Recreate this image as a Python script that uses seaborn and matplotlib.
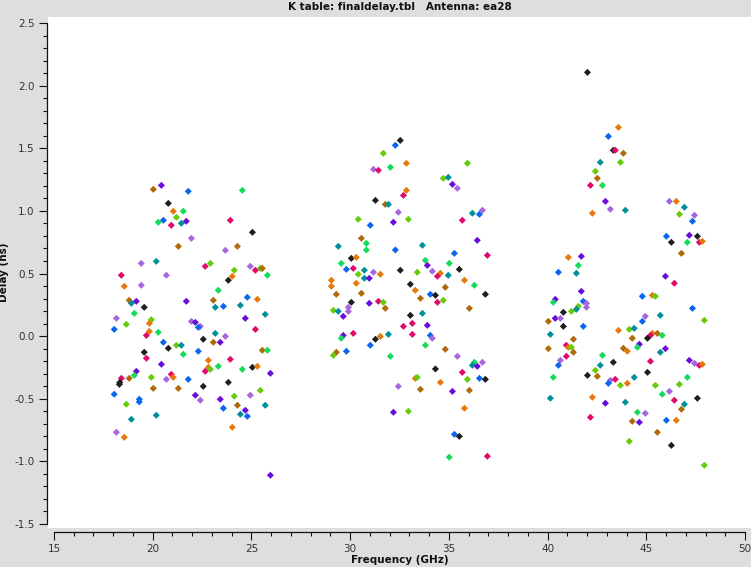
import pandas as pd
import matplotlib
matplotlib.use("Agg")
import matplotlib.pyplot as plt
from matplotlib.ticker import MultipleLocator
import seaborn as sns

TITLE = "K table: finaldelay.tbl   Antenna: ea28"
OUT_PNG = "out.png"

# colour groups (one per spw in the plotms cycle)
PALETTE = {
    'blk': '#1e1e1e', 'pur': '#6a0ddb', 'blu': '#0a66ee', 'tea': '#00909c',
    'grn': '#14dc5a', 'lim': '#66cc0a', 'org': '#e8780a', 'brn': '#b06a0a',
    'pnk': '#e00a6a', 'lav': '#a666dd',
}

# K band (18-26 GHz)
k_freq = [20.03, 20.44, 21.80, 24.54, 20.79, 21.04, 21.55, 21.20, 20.54, 20.28,
          21.70, 20.94, 21.45, 23.93, 25.05, 21.96, 21.30, 23.68, 24.29, 19.42,
          20.18, 18.41, 20.69, 22.66, 22.92, 24.13, 24.94, 25.20, 25.45, 25.55,
          25.81, 24.03, 23.83, 18.56, 19.42, 23.32, 18.81, 19.17, 18.92, 19.57,
          19.07, 21.70, 23.07, 23.58, 23.17, 24.44, 24.79, 25.30, 24.69, 25.70,
          18.16, 19.93, 18.66, 19.83, 18.05, 19.68, 19.83, 20.28, 21.96, 22.16,
          22.41, 22.31, 25.20, 23.17, 23.68, 22.56, 23.07, 23.42, 20.54, 21.20,
          21.45, 20.79, 19.57, 22.31, 25.55, 25.81, 21.55, 19.68, 23.93, 22.82,
          20.44, 22.82, 22.92, 22.66, 23.32, 24.54, 25.05, 25.30, 25.96, 19.17,
          19.07, 18.41, 18.81, 19.93, 20.94, 21.04, 20.69, 21.80, 23.83, 18.31,
          18.33, 18.05, 20.03, 21.30, 22.56, 25.45, 19.32, 19.32, 18.66, 22.16,
          22.41, 23.42, 24.13, 24.94, 24.29, 23.58, 24.69, 25.70, 24.44, 24.79,
          18.92, 20.18, 24.03, 18.16, 18.56, 25.96]
k_delay = [1.172, 1.204, 1.156, 1.164, 1.060, 0.997, 0.997, 0.949, 0.925, 0.909,
           0.917, 0.885, 0.901, 0.925, 0.829, 0.781, 0.717, 0.685, 0.717, 0.581,
           0.597, 0.486, 0.486, 0.557, 0.581, 0.526, 0.557, 0.526, 0.541, 0.541,
           0.486, 0.478, 0.446, 0.398, 0.406, 0.366, 0.286, 0.278, 0.262, 0.230,
           0.182, 0.278, 0.286, 0.238, 0.230, 0.246, 0.310, 0.294, 0.142, 0.174,
           0.142, 0.131, 0.094, 0.102, 0.054, 0.006, 0.038, 0.030, 0.118, 0.110,
           0.078, 0.070, 0.054, 0.022, -0.002, -0.025, -0.049, -0.049, -0.049, -0.073,
           -0.073, -0.097, -0.129, -0.121, -0.113, -0.113, -0.145, -0.177, -0.185, -0.193,
           -0.225, -0.249, -0.265, -0.281, -0.241, -0.265, -0.249, -0.241, -0.297, -0.281,
           -0.313, -0.337, -0.337, -0.329, -0.305, -0.329, -0.345, -0.345, -0.369, -0.385,
           -0.370, -0.464, -0.417, -0.417, -0.401, -0.433, -0.504, -0.525, -0.544, -0.472,
           -0.512, -0.504, -0.480, -0.472, -0.552, -0.576, -0.592, -0.552, -0.624, -0.640,
           -0.664, -0.632, -0.728, -0.768, -0.808, -1.111]
k_spw = ['brn', 'pur', 'blu', 'grn', 'blk', 'org', 'grn', 'lim', 'blu', 'grn',
         'pur', 'pnk', 'tea', 'pnk', 'blk', 'lav', 'brn', 'lav', 'brn', 'lav',
         'tea', 'pnk', 'lav', 'pnk', 'lim', 'lim', 'lav', 'pnk', 'lim', 'brn',
         'grn', 'org', 'blk', 'org', 'lav', 'grn', 'brn', 'pur', 'tea', 'blk',
         'grn', 'pur', 'brn', 'blu', 'tea', 'tea', 'blu', 'org', 'pur', 'tea',
         'lav', 'lim', 'lim', 'org', 'blu', 'pnk', 'org', 'grn', 'lav', 'pur',
         'lav', 'blu', 'pnk', 'tea', 'lav', 'blk', 'brn', 'pur', 'blu', 'lim',
         'tea', 'blk', 'blk', 'blu', 'brn', 'grn', 'grn', 'pnk', 'pnk', 'org',
         'pur', 'org', 'lim', 'pnk', 'grn', 'grn', 'blk', 'org', 'pur', 'pur',
         'grn', 'pnk', 'brn', 'lim', 'pnk', 'org', 'lav', 'blu', 'blk', 'blk',
         'blk', 'blu', 'brn', 'brn', 'blk', 'lim', 'blu', 'blu', 'lim', 'pur',
         'lav', 'pur', 'lim', 'lav', 'brn', 'blu', 'pur', 'tea', 'tea', 'blu',
         'tea', 'tea', 'org', 'lav', 'org', 'pur']

# Ka band (29-37 GHz)
ka_freq = [32.54, 32.29, 31.68, 32.85, 35.94, 31.18, 31.43, 32.04, 34.72, 34.97,
           35.18, 35.43, 32.85, 32.70, 31.28, 31.78, 31.94, 32.44, 30.41, 32.19,
           32.95, 31.02, 35.68, 36.19, 36.55, 36.70, 36.44, 30.57, 30.82, 29.40,
           33.66, 30.82, 32.29, 30.06, 30.31, 35.28, 36.95, 29.55, 30.16, 29.81,
           30.72, 30.41, 31.18, 31.53, 30.72, 30.97, 32.54, 33.81, 33.91, 35.02,
           35.53, 33.40, 34.16, 34.57, 34.42, 34.97, 29.05, 29.05, 30.31, 29.30,
           30.57, 33.05, 33.30, 34.82, 35.79, 36.29, 34.06, 34.32, 36.85, 33.56,
           30.06, 30.97, 31.43, 31.68, 34.42, 34.72, 31.78, 36.04, 29.15, 29.40,
           29.91, 29.91, 29.65, 33.05, 33.66, 32.70, 33.15, 33.91, 30.16, 29.65,
           29.55, 31.94, 31.53, 31.28, 33.15, 34.06, 34.16, 31.02, 33.81, 29.30,
           29.15, 29.81, 32.04, 34.82, 35.43, 36.29, 36.19, 36.44, 36.70, 34.32,
           35.68, 36.55, 36.85, 33.30, 33.40, 32.44, 34.57, 35.94, 33.56, 35.18,
           36.04, 35.79, 32.19, 32.95, 35.28, 35.53, 35.02, 36.95]
ka_delay = [1.563, 1.524, 1.460, 1.380, 1.380, 1.332, 1.324, 1.348, 1.260, 1.268,
            1.212, 1.180, 1.164, 1.124, 1.084, 1.052, 1.052, 0.989, 0.933, 0.909,
            0.933, 0.885, 0.925, 0.981, 0.973, 1.005, 0.765, 0.781, 0.741, 0.717,
            0.725, 0.688, 0.688, 0.621, 0.629, 0.661, 0.645, 0.581, 0.541, 0.533,
            0.526, 0.494, 0.510, 0.494, 0.462, 0.462, 0.526, 0.605, 0.565, 0.581,
            0.533, 0.510, 0.518, 0.502, 0.478, 0.486, 0.446, 0.398, 0.422, 0.334,
            0.342, 0.414, 0.366, 0.390, 0.446, 0.406, 0.334, 0.326, 0.334, 0.302,
            0.270, 0.262, 0.278, 0.270, 0.270, 0.286, 0.222, 0.222, 0.206, 0.198,
            0.230, 0.198, 0.158, 0.166, 0.182, 0.078, 0.102, 0.086, 0.022, 0.006,
            -0.017, 0.014, -0.002, -0.025, 0.014, 0.006, -0.017, -0.073, -0.073, -0.129,
            -0.153, -0.121, -0.161, -0.105, -0.161, -0.209, -0.233, -0.241, -0.209, -0.262,
            -0.289, -0.337, -0.345, -0.337, -0.329, -0.401, -0.369, -0.345, -0.425, -0.441,
            -0.433, -0.576, -0.608, -0.600, -0.784, -0.800, -0.967, -0.959]
ka_spw = ['blk', 'blu', 'lim', 'org', 'lim', 'lav', 'pnk', 'grn', 'lim', 'tea',
          'pur', 'lav', 'org', 'pnk', 'blk', 'brn', 'tea', 'lav', 'lim', 'pur',
          'lim', 'blu', 'pnk', 'tea', 'blu', 'lav', 'pur', 'brn', 'grn', 'tea',
          'tea', 'grn', 'blu', 'blk', 'org', 'blu', 'pnk', 'grn', 'pnk', 'blu',
          'tea', 'lim', 'lav', 'org', 'tea', 'pur', 'blk', 'grn', 'pur', 'grn',
          'blk', 'lim', 'lav', 'org', 'pnk', 'tea', 'org', 'org', 'org', 'brn',
          'brn', 'blk', 'org', 'brn', 'org', 'grn', 'blu', 'blk', 'blk', 'brn',
          'blk', 'pur', 'pnk', 'lim', 'pnk', 'lim', 'brn', 'brn', 'lim', 'tea',
          'lav', 'lav', 'pur', 'blk', 'tea', 'pnk', 'pnk', 'pur', 'pnk', 'pur',
          'grn', 'tea', 'org', 'blk', 'pnk', 'blu', 'lav', 'blu', 'grn', 'brn',
          'lim', 'blu', 'grn', 'brn', 'lav', 'grn', 'tea', 'pur', 'lav', 'blk',
          'pnk', 'blu', 'blk', 'org', 'lim', 'lav', 'org', 'lim', 'brn', 'pur',
          'brn', 'org', 'pur', 'lim', 'blu', 'blk', 'grn', 'pnk']

# Q band (40-48 GHz)
q_freq = [42.02, 43.59, 43.08, 43.33, 43.43, 43.84, 42.67, 43.69, 42.42, 42.52,
          42.17, 42.78, 42.93, 43.18, 42.27, 43.94, 46.17, 46.52, 46.93, 46.68,
          47.44, 47.34, 46.02, 47.18, 47.59, 46.27, 47.08, 47.69, 47.84, 46.78,
          41.05, 41.71, 41.56, 40.55, 41.46, 45.97, 46.42, 41.71, 40.39, 40.29,
          41.81, 41.97, 41.97, 41.56, 41.46, 41.21, 40.80, 44.80, 45.31, 45.46,
          47.34, 40.04, 40.39, 40.65, 40.80, 41.81, 40.14, 41.31, 44.95, 45.71,
          44.80, 47.94, 43.59, 44.14, 44.39, 44.29, 45.31, 45.56, 45.21, 45.81,
          45.06, 44.65, 44.55, 40.95, 41.05, 41.21, 40.04, 43.84, 45.97, 41.31,
          40.95, 40.65, 40.55, 40.29, 40.14, 42.78, 43.33, 42.67, 42.42, 42.02,
          42.52, 43.18, 43.43, 43.08, 43.69, 44.04, 44.39, 44.04, 45.71, 45.21,
          45.06, 45.46, 45.81, 46.17, 46.68, 47.08, 47.18, 47.44, 47.69, 47.84,
          46.42, 46.93, 47.59, 46.78, 42.27, 42.93, 43.94, 44.55, 44.95, 42.17,
          44.29, 44.65, 46.02, 46.52, 45.56, 44.14, 46.27, 47.94]
q_delay = [2.106, 1.667, 1.595, 1.484, 1.484, 1.460, 1.388, 1.388, 1.316, 1.260,
           1.204, 1.204, 1.076, 1.013, 0.981, 1.005, 1.076, 1.076, 1.029, 0.973,
           0.965, 0.917, 0.797, 0.805, 0.797, 0.749, 0.749, 0.749, 0.757, 0.661,
           0.629, 0.637, 0.565, 0.510, 0.502, 0.478, 0.422, 0.358, 0.294, 0.270,
           0.278, 0.262, 0.230, 0.238, 0.214, 0.198, 0.190, 0.318, 0.326, 0.318,
           0.222, 0.118, 0.142, 0.142, 0.078, 0.078, 0.014, -0.025, 0.158, 0.166,
           0.118, 0.126, 0.046, 0.054, 0.062, -0.017, 0.022, 0.022, 0.006, 0.006,
           -0.017, -0.065, -0.089, -0.073, -0.089, -0.089, -0.100, -0.097, -0.100, -0.129,
           -0.161, -0.193, -0.233, -0.329, -0.496, -0.153, -0.209, -0.233, -0.273, -0.313,
           -0.321, -0.353, -0.345, -0.377, -0.393, -0.377, -0.329, -0.121, -0.129, -0.201,
           -0.289, -0.393, -0.464, -0.441, -0.385, -0.329, -0.193, -0.217, -0.233, -0.225,
           -0.512, -0.544, -0.496, -0.584, -0.488, -0.536, -0.528, -0.608, -0.616, -0.648,
           -0.680, -0.688, -0.672, -0.672, -0.768, -0.840, -0.872, -1.031]
q_spw = ['blk', 'org', 'blu', 'blk', 'pnk', 'brn', 'tea', 'lim', 'lim', 'brn',
         'pnk', 'grn', 'pur', 'lav', 'org', 'tea', 'lav', 'org', 'tea', 'lim',
         'lav', 'blu', 'blu', 'pur', 'blk', 'blk', 'grn', 'pnk', 'org', 'brn',
         'org', 'pur', 'grn', 'blu', 'tea', 'pur', 'pnk', 'pur', 'pur', 'grn',
         'blu', 'lav', 'lav', 'lim', 'tea', 'lim', 'blk', 'blu', 'org', 'lim',
         'blu', 'brn', 'pur', 'lav', 'blk', 'blu', 'tea', 'brn', 'lav', 'tea',
         'blu', 'lim', 'org', 'lim', 'tea', 'brn', 'org', 'brn', 'pnk', 'grn',
         'blk', 'pur', 'grn', 'pnk', 'org', 'lim', 'brn', 'brn', 'pur', 'brn',
         'pnk', 'lav', 'blu', 'grn', 'tea', 'grn', 'blk', 'tea', 'lim', 'blk',
         'brn', 'lav', 'pnk', 'blu', 'lim', 'org', 'tea', 'org', 'tea', 'pnk',
         'blk', 'lim', 'grn', 'lav', 'lim', 'grn', 'pur', 'lav', 'pnk', 'org',
         'pnk', 'tea', 'blk', 'brn', 'org', 'pur', 'tea', 'grn', 'lav', 'pnk',
         'brn', 'pur', 'blu', 'org', 'brn', 'lim', 'blk', 'lim']


def build_frame():
    df = pd.DataFrame({
        'freq': k_freq + ka_freq + q_freq,
        'delay': k_delay + ka_delay + q_delay,
        'spw': k_spw + ka_spw + q_spw,
    })
    return df


def make_plot(df, out_png=OUT_PNG):
    sns.set_theme(style='ticks')
    plt.rcParams['font.family'] = ['DejaVu Sans']
    plt.rcParams['axes.unicode_minus'] = False

    fig = plt.figure(figsize=(7.51, 5.67), dpi=100, facecolor='#dfdedc')
    ax = fig.add_axes([48 / 751, 39 / 567, 703 / 751, 511 / 567])
    ax.set_facecolor('white')

    sns.scatterplot(data=df, x='freq', y='delay', hue='spw', palette=PALETTE,
                    marker='D', s=13, linewidth=0, legend=False, ax=ax)

    ax.set_xlim(14.696, 50.304)
    ax.set_ylim(-1.532, 2.548)
    ax.xaxis.set_major_locator(MultipleLocator(5))
    ax.xaxis.set_minor_locator(MultipleLocator(1))
    ax.yaxis.set_major_locator(MultipleLocator(0.5))
    ax.yaxis.set_minor_locator(MultipleLocator(0.1))
    ax.yaxis.set_major_formatter(plt.FormatStrFormatter('%.1f'))

    for side in ('top', 'right'):
        ax.spines[side].set_visible(False)
    ax.spines['left'].set_position(('outward', 1))
    ax.spines['bottom'].set_position(('outward', 3))
    ax.spines['left'].set_bounds(-1.5, 2.5)
    ax.spines['bottom'].set_bounds(15, 50)
    for side in ('left', 'bottom'):
        ax.spines[side].set_color('#111111')
        ax.spines[side].set_linewidth(0.9)

    ax.tick_params(which='major', length=6, width=0.8, color='#111111',
                   labelsize=7.5, labelcolor='#333333', pad=2.5)
    ax.tick_params(which='minor', length=3, width=0.8, color='#111111')

    ax.set_xlabel('Frequency (GHz)', fontsize=7.5, fontweight='bold',
                  color='#111111', labelpad=1)
    ax.set_ylabel('Delay (ns)', fontsize=7.5, fontweight='bold',
                  color='#111111', labelpad=4)
    ax.set_title(TITLE, fontsize=7.5, fontweight='bold', color='#111111', pad=5)

    fig.savefig(out_png, dpi=100, facecolor=fig.get_facecolor())
    plt.close(fig)
    return out_png


if __name__ == "__main__":
    make_plot(build_frame())
